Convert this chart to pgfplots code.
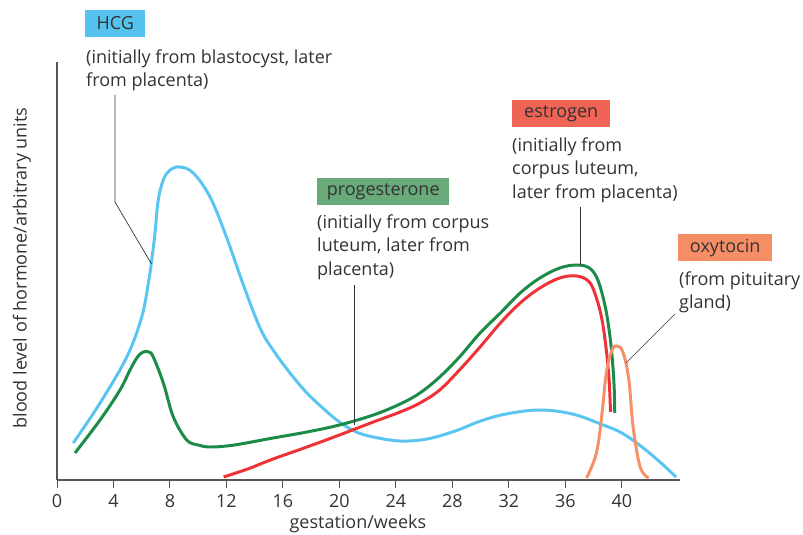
\documentclass[border=0pt]{standalone}
\usepackage{pgfplots}
\pgfplotsset{compat=1.18}
\usepackage{fontspec}
\setmainfont{Open Sans}
\definecolor{textgray}{HTML}{333333}
\definecolor{axisgray}{HTML}{555555}
\definecolor{hcgline}{HTML}{5BC5F2}
\definecolor{hcgbox}{HTML}{55C3EE}
\definecolor{progline}{HTML}{1B8C47}
\definecolor{progbox}{HTML}{68AA79}
\definecolor{estline}{HTML}{EE3338}
\definecolor{estbox}{HTML}{EF6454}
\definecolor{oxyline}{HTML}{F59068}
\definecolor{oxybox}{HTML}{F58E66}
\pgfplotstableread{
w y
1.15 37
3.05 77
4.94 123
6.0 163
6.47 197
6.71 220
6.94 247
7.17 280
7.53 300
8.0 310
8.71 313
9.65 307
10.84 283
12.0 243
13.2 195
14.38 152
15.3 130
16.5 107
17.7 87
18.9 71
20.0 58
21.2 48
22.4 43
24.3 39
26.2 41
28.2 49
30.0 59
31.8 66
34.2 70
36.5 66
38.5 56
40.0 47
41.43 33
42.7 18
43.84 3
}\hcg
\pgfplotstableread{
w y
1.27 27
3.05 60
4.46 90
5.17 110
5.7 123
6.11 128
6.5 128
6.82 123
7.53 97
8.24 63
9.19 40
10.0 35
10.8 33
12.0 34
13.0 36
15.3 42
17.7 48
20.0 55
22.4 65
24.3 76
25.7 87
27.1 103
28.5 123
29.96 147
31.4 167
32.8 187
34.2 202
35.6 212
36.8 215
37.7 212
38.3 200
38.8 175
39.1 150
39.3 125
39.45 95
39.5 67
}\prog
\pgfplotstableread{
w y
11.8 3
13.5 11
15.3 21
17.7 33
20.0 45
22.4 58
24.3 68
25.7 77
27.1 90
28.5 110
29.96 133
31.4 157
32.8 177
34.2 192
35.6 202
36.8 204
37.7 198
38.2 182
38.6 160
38.9 130
39.1 100
39.2 68
}\est
\pgfplotstableread{
w y
37.5 2
38.2 27
38.6 67
38.9 107
39.3 130
39.7 134
40.1 127
40.5 100
40.8 53
41.3 13
41.9 2
}\oxy
\begin{document}
\fontsize{18bp}{21bp}\selectfont
\begin{tikzpicture}
\path[use as bounding box] (-57bp,-55bp) rectangle (746bp,480bp);
\begin{axis}[
  at={(0,0)}, anchor=south west,
  scale only axis, width=623bp, height=418bp,
  xmin=0, xmax=44.12, ymin=0, ymax=418,
  axis x line*=bottom, axis y line*=left,
  axis line style={draw=axisgray, line width=1.2pt, -},
  xtick={0,4,...,40}, ytick=\empty,
  tick align=outside, major tick length=8bp,
  tick style={draw=axisgray, line width=1pt},
  tick label style={text=textgray, font=\fontsize{18bp}{21bp}\selectfont},
  /pgf/number format/assume math mode=true,
  xlabel={gestation/weeks},
  ylabel={blood level of hormone/arbitrary units},
  label style={text=textgray, font=\fontsize{18bp}{21bp}\selectfont},
  xlabel style={at={(rel axis cs:0.483,-0.106)}, anchor=center},
  ylabel style={at={(rel axis cs:-0.0562,0.507)}, anchor=center},
]
\addplot[hcgline, line width=3pt, smooth, tension=0.6] table[x=w,y=y] {\hcg};
\addplot[progline, line width=3pt, smooth, tension=0.6] table[x=w,y=y] {\prog};
\addplot[estline, line width=3pt, smooth, tension=0.6] table[x=w,y=y] {\est};
\addplot[oxyline, line width=3pt, smooth, tension=0.6] table[x=w,y=y] {\oxy};
\end{axis}
\begin{scope}[x=1bp,y=1bp]
\tikzset{box/.style={anchor=west, minimum height=27bp, inner ysep=0pt, inner xsep=0pt, text=textgray},
         note/.style={anchor=base west, inner sep=0pt, text=textgray},
         lead/.style={draw=textgray, line width=0.7pt}}
% HCG
\node[box, fill=hcgbox, minimum width=60bp] at (28,456.5) {HCG};
\node[note] at (29,416) {(initially from blastocyst, later};
\node[note] at (29,393) {from placenta)};
\draw[lead] (58,385) -- (58,278) -- (94.5,216);
% progesterone
\node[box, fill=progbox, minimum width=132bp] at (260,288) {progesterone};
\node[note] at (260,252) {(initially from corpus};
\node[note] at (260,228.5) {luteum, later from};
\node[note] at (260,205) {placenta)};
\draw[lead] (297,195) -- (297,55);
% estrogen
\node[box, fill=estbox, minimum width=98bp] at (455,366) {estrogen};
\node[note] at (455,329) {(initially from};
\node[note] at (455,305.5) {corpus luteum,};
\node[note] at (455,282) {later from placenta)};
\draw[lead] (523,273) -- (523,215);
% oxytocin
\node[box, fill=oxybox, minimum width=94bp] at (621,232) {oxytocin};
\node[note] at (622,195) {(from pituitary};
\node[note] at (622,172) {gland)};
\draw[lead] (618,166) -- (569,117);
\end{scope}
\end{tikzpicture}
\end{document}
